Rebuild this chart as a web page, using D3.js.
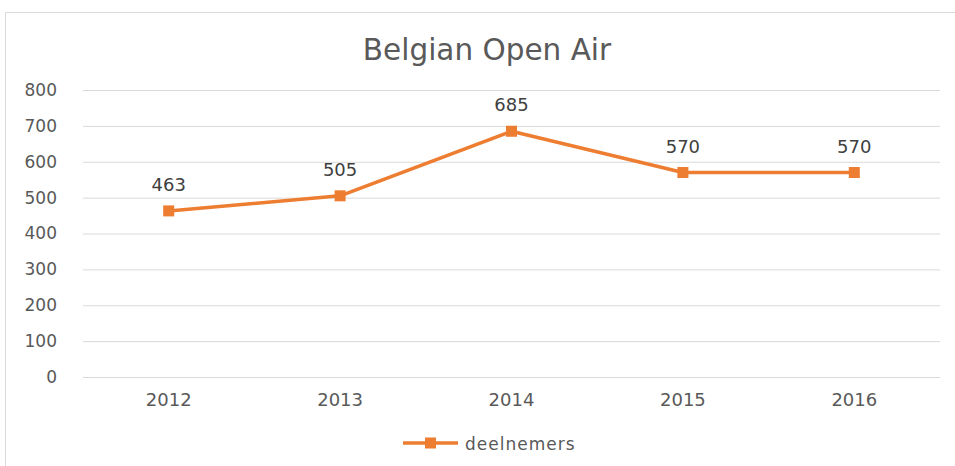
<!DOCTYPE html>
<html>
<head>
<meta charset="utf-8">
<script src="https://cdn.jsdelivr.net/npm/d3@7"></script>
<style>
  html, body { margin: 0; padding: 0; background: #fff; }
  svg { display: block; }
</style>
</head>
<body>
<svg id="chart" width="955" height="466"></svg>
<script>
const years = ["2012", "2013", "2014", "2015", "2016"];
const deelnemers = [463, 505, 685, 570, 570];
const yTicks = [0, 100, 200, 300, 400, 500, 600, 700, 800];
const seriesName = "deelnemers";
const title = "Belgian Open Air";

const W = 955, H = 466;
const margin = { top: 90, right: 15, bottom: 89, left: 83 };
const width = W - margin.left - margin.right;
const height = H - margin.top - margin.bottom;
const orange = "#ED7D31";
const grey = "#595959";
const font = "'DejaVu Sans', sans-serif";

const svgEl = d3.select("#chart");
svgEl.selectAll("*").remove();

// outer chart border (only top and left show in the crop)
svgEl.append("line").attr("x1", 5.5).attr("x2", W).attr("y1", 12.5).attr("y2", 12.5)
  .attr("stroke", "#d9d9d9");
svgEl.append("line").attr("x1", 5.5).attr("x2", 5.5).attr("y1", 12.5).attr("y2", H)
  .attr("stroke", "#d9d9d9");

svgEl.append("text")
  .attr("x", 487).attr("y", 60)
  .attr("text-anchor", "middle")
  .attr("font-family", font)
  .attr("font-size", 29.5)
  .attr("fill", grey)
  .text(title);

const svg = svgEl.append("g")
  .attr("transform", `translate(${margin.left},${margin.top})`);

const xScale = d3.scaleBand().domain(years).range([0, width]);
const yScale = d3.scaleLinear().domain([0, 800]).range([height, 0]);

// Y grid with labels
const yAxis = d3.axisLeft(yScale).tickValues(yTicks).tickSize(-width).tickPadding(26);
const yAxisGroup = svg.append("g").call(yAxis);
yAxisGroup.select(".domain").remove();
yAxisGroup.selectAll("line").attr("stroke", "#d9d9d9").attr("stroke-width", 1);
yAxisGroup.selectAll("text")
  .attr("fill", grey)
  .attr("font-family", font)
  .attr("font-size", 17);

// X labels
const xAxis = d3.axisBottom(xScale).tickSize(0).tickPadding(16);
const xAxisGroup = svg.append("g").attr("transform", `translate(0,${height})`).call(xAxis);
xAxisGroup.select(".domain").remove();
xAxisGroup.selectAll("text")
  .attr("fill", grey)
  .attr("font-family", font)
  .attr("font-size", 18);

const cx = (d, i) => xScale(years[i]) + xScale.bandwidth() / 2;

const line = d3.line()
  .x((d, i) => cx(d, i))
  .y(d => yScale(d));

svg.append("path")
  .datum(deelnemers)
  .attr("fill", "none")
  .attr("stroke", orange)
  .attr("stroke-width", 3.5)
  .attr("stroke-linejoin", "round")
  .attr("d", line);

const ms = 11;
svg.selectAll(".marker")
  .data(deelnemers)
  .enter()
  .append("rect")
  .attr("x", (d, i) => cx(d, i) - ms / 2)
  .attr("y", d => yScale(d) - ms / 2)
  .attr("width", ms).attr("height", ms)
  .attr("fill", orange);

svg.selectAll(".dlabel")
  .data(deelnemers)
  .enter()
  .append("text")
  .attr("x", (d, i) => cx(d, i))
  .attr("y", d => yScale(d) - 20)
  .attr("text-anchor", "middle")
  .attr("fill", "#404040")
  .attr("font-family", font)
  .attr("font-size", 18)
  .text(d => d);

// legend
const lg = svgEl.append("g").attr("transform", "translate(403,443)");
lg.append("line").attr("x1", 0).attr("x2", 55).attr("y1", 0).attr("y2", 0)
  .attr("stroke", orange).attr("stroke-width", 3.5);
lg.append("rect").attr("x", 22).attr("y", -5.5).attr("width", 11).attr("height", 11)
  .attr("fill", orange);
lg.append("text").attr("x", 62).attr("y", 7)
  .attr("fill", grey)
  .attr("font-family", font)
  .attr("font-size", 17)
  .attr("letter-spacing", 1)
  .text(seriesName);
</script>
</body>
</html>
